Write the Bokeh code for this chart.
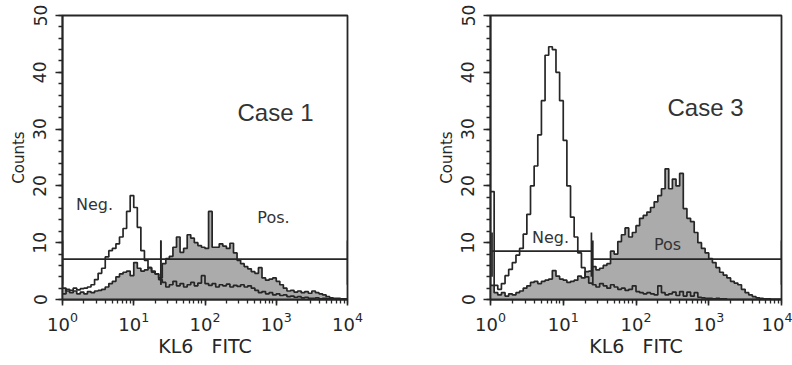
import numpy as np
from bokeh.plotting import figure
from bokeh.layouts import row
from bokeh.models import Range1d, SingleIntervalTicker, LogTicker, Label
from bokeh.embed import file_html
from bokeh.resources import INLINE

# ---- data -------------------------------------------------------------
# histogram channels: 80 bins, 1/20 decade each, spanning 10^0 .. 10^4
bin_edges = [10 ** (k / 20) for k in range(81)]

case1_neg = [1.0, 1.8, 1.6, 2.0, 1.7, 1.9, 2.0, 2.2, 2.6, 3.5,
             4.6, 5.5, 7.5, 8.6, 9.0, 9.8, 11.0, 12.5, 15.5, 18.3,
             16.2, 12.7, 8.6, 6.9, 5.6, 5.0, 4.5, 3.5, 3.0, 2.2,
             2.6, 3.2, 2.4, 2.8, 2.2, 2.6, 3.0, 2.4, 2.9, 4.2,
             2.8, 2.5, 2.8, 2.2, 2.6, 2.4, 2.7, 2.2, 2.5, 2.3,
             2.6, 2.2, 2.4, 2.0, 1.6, 1.2, 1.4, 1.0, 1.2, 0.8,
             1.0, 0.7, 0.8, 0.5, 0.6, 0.4, 0.5, 0.3, 0.4, 0.2,
             0.2, 0.3, 0.1, 0.2, 0.1, 0.1, 0.0, 0.1, 0.0, 0.0]

case1_pos = [2.0, 1.5, 1.2, 1.5, 1.0, 1.3, 1.0, 1.4, 1.2, 1.5,
             1.6, 1.8, 2.2, 2.8, 3.2, 4.0, 4.5, 4.8, 5.0, 4.2,
             6.5, 5.5, 5.0, 5.2, 5.6, 4.8, 4.5, 3.8, 6.3, 7.2,
             7.6, 9.2, 11.0, 8.3, 9.0, 11.4, 10.8, 10.0, 9.5, 9.2,
             9.0, 15.5, 9.2, 9.2, 9.8, 9.4, 9.0, 9.9, 8.2, 6.9,
             6.3, 5.8, 5.4, 4.9, 4.6, 5.6, 3.8, 3.4, 3.6, 3.8,
             3.2, 2.6, 2.0, 1.5, 1.6, 1.3, 1.5, 1.2, 1.4, 1.1,
             1.5, 1.2, 1.0, 0.8, 0.5, 0.3, 0.2, 0.2, 0.1, 0.1]

case3_neg = [19.0, 2.5, 1.8, 2.8, 4.2, 5.3, 6.5, 7.8, 9.0, 11.5,
             15.0, 20.0, 23.5, 29.0, 35.0, 43.0, 44.5, 44.0, 40.0, 35.0,
             28.0, 20.0, 14.5, 11.0, 8.2, 5.6, 4.0, 2.9, 2.6, 2.2,
             2.8, 2.4, 2.0, 2.6, 2.2, 1.8, 2.0, 1.6, 1.8, 2.4,
             1.4, 1.2, 1.0, 1.2, 1.0, 0.8, 2.4, 1.2, 0.8, 1.0,
             1.3, 0.7, 1.4, 0.6, 1.3, 0.6, 1.2, 0.4, 0.3, 0.2,
             0.2, 0.1, 0.2, 0.1, 0.1, 0.0, 0.0, 0.0, 0.0, 0.0,
             0.0, 0.0, 0.0, 0.0, 0.0, 0.0, 0.0, 0.0, 0.0, 0.0]

case3_pos = [2.5, 1.2, 0.8, 1.2, 0.6, 1.0, 0.8, 1.2, 1.5, 2.0,
             2.4, 3.0, 3.2, 2.8, 3.2, 3.4, 3.6, 5.1, 4.1, 3.6,
             3.4, 3.0, 3.2, 3.4, 4.1, 3.8, 4.9, 5.0, 5.8, 5.2,
             5.5, 6.0, 6.3, 8.5, 8.0, 10.2, 11.4, 12.6, 11.0, 11.8,
             13.0, 14.3, 14.8, 15.4, 16.2, 17.2, 18.3, 19.5, 23.0, 19.5,
             21.2, 20.0, 22.2, 16.0, 14.3, 13.7, 11.8, 10.0, 9.0, 8.2,
             7.2, 6.5, 5.6, 4.8, 4.3, 3.8, 3.2, 2.9, 2.6, 1.8,
             1.2, 0.8, 0.5, 0.3, 0.2, 0.1, 0.1, 0.0, 0.0, 0.0]

# gate markers: start, end, level (Neg gate, Pos gate)
case1_gate_start = [1.0, 24.0]
case1_gate_end = [24.0, 10000.0]
case1_gate_level = [7.1, 7.1]

case3_gate_start = [1.05, 25.5]
case3_gate_end = [24.4, 10000.0]
case3_gate_level = [8.5, 7.1]

y_ticks_interval = 10
x_label = "KL6\u00a0\u00a0\u00a0FITC"
y_label = "Counts"

INK = "#262626"
FILL = "#ababab"
FONT = "DejaVu Sans"


def make_panel(neg, pos, g0, g1, gy, case_text, case_xy, neg_xy, pos_xy, pos_text,
               width, height, bl, br, bt, bb):
    p = figure(width=width, height=height, x_axis_type="log",
               x_range=Range1d(1, 1e4), y_range=Range1d(0, 50),
               output_backend="svg", toolbar_location=None,
               min_border_left=bl, min_border_right=br,
               min_border_top=bt, min_border_bottom=bb)
    p.grid.visible = False
    p.outline_line_color = INK
    p.outline_line_width = 1.8
    p.background_fill_color = "white"
    p.border_fill_color = "white"

    xs = bin_edges
    ypos = pos + [pos[-1]]
    yneg = neg + [neg[-1]]
    p.varea_step(x=xs, y1=[0] * len(xs), y2=ypos, step_mode="after",
                 fill_color=FILL)
    p.step(xs, ypos, mode="after", line_color=INK, line_width=1.7)
    p.step(xs, yneg, mode="after", line_color=INK, line_width=1.7)

    # gates
    p.segment(x0=g0, y0=gy, x1=g1, y1=gy, line_color=INK, line_width=1.7)
    ends_x = list(g0) + list(g1)
    ends_y = list(gy) + list(gy)
    p.segment(x0=ends_x, y0=[v - 4.5 for v in ends_y], x1=ends_x,
              y1=[v + 3.3 for v in ends_y], line_color=INK, line_width=1.7)

    # axes
    p.yaxis.ticker = SingleIntervalTicker(interval=y_ticks_interval, num_minor_ticks=5)
    p.xaxis.ticker = LogTicker(num_minor_ticks=10)
    for ax in (p.xaxis[0], p.yaxis[0]):
        ax.axis_line_color = INK
        ax.axis_line_width = 1.8
        ax.major_tick_line_color = INK
        ax.minor_tick_line_color = INK
        ax.major_tick_line_width = 1.6
        ax.minor_tick_line_width = 1.3
        ax.major_tick_in = 0
        ax.minor_tick_in = 0
        ax.major_label_text_color = INK
        ax.axis_label_text_color = INK
        ax.axis_label_text_font = FONT
        ax.major_label_text_font = FONT
        ax.axis_label_text_font_style = "normal"
    p.yaxis.major_tick_out = 7
    p.yaxis.minor_tick_out = 4
    p.xaxis.major_tick_out = 6
    p.xaxis.minor_tick_out = 4
    p.yaxis.major_label_orientation = "vertical"
    p.yaxis.major_label_text_font_size = "17px"
    p.yaxis.major_label_standoff = 9
    p.yaxis.axis_label = y_label
    p.yaxis.axis_label_text_font_size = "15px"
    p.yaxis.axis_label_standoff = 3
    p.xaxis.major_label_text_font_size = "18px"
    p.xaxis.major_label_standoff = 6
    p.xaxis.axis_label = x_label
    p.xaxis.axis_label_text_font_size = "19px"
    p.xaxis.axis_label_standoff = 1

    p.add_layout(Label(x=case_xy[0], y=case_xy[1], text=case_text,
                       text_font="Liberation Sans", text_font_size="24px",
                       text_color="#333333", text_baseline="alphabetic"))
    p.add_layout(Label(x=neg_xy[0], y=neg_xy[1], text="Neg.",
                       text_font=FONT, text_font_size="16px",
                       text_color="#333333", text_align="center",
                       text_baseline="middle"))
    p.add_layout(Label(x=pos_xy[0], y=pos_xy[1], text=pos_text,
                       text_font=FONT, text_font_size="16px",
                       text_color="#333333", text_align="center",
                       text_baseline="middle"))
    return p


p1 = make_panel(case1_neg, case1_pos, case1_gate_start, case1_gate_end,
                case1_gate_level, "Case 1", (286, 32.9), (2.81, 16.7),
                (915, 14.4), "Pos.",
                400, 365, 62, 53, 15, 66)
p2 = make_panel(case3_neg, case3_pos, case3_gate_start, case3_gate_end,
                case3_gate_level, "Case 3", (271, 33.8), (6.68, 10.9),
                (271, 9.7), "Pos",
                392, 365, 90, 11, 14, 58)

layout = row(p1, p2, spacing=0)
open("out.html", "w").write(file_html(layout, INLINE))
